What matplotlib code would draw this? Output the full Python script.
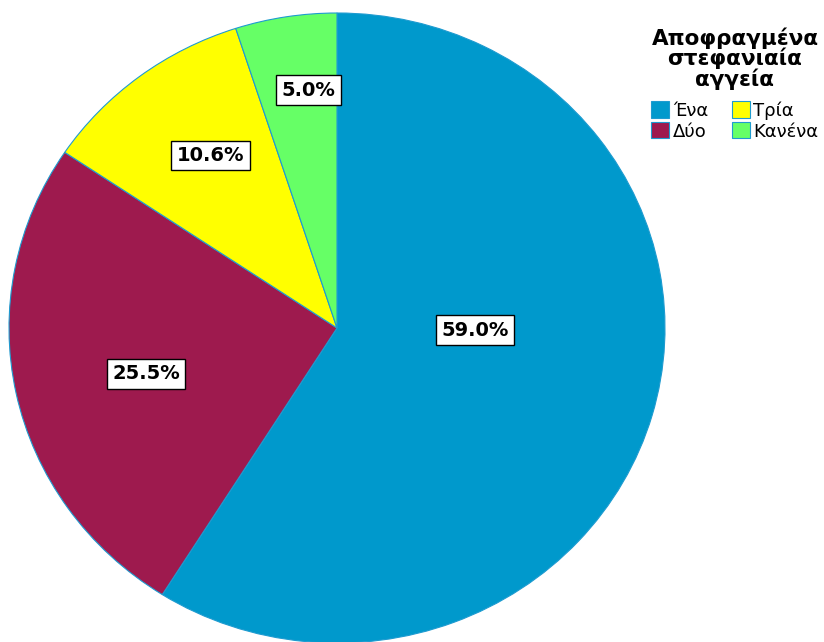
import matplotlib
matplotlib.use("Agg")
import matplotlib.pyplot as plt
from matplotlib.patches import Patch
import numpy as np

# Blocked coronary vessels: share of patients per category
categories = ["Ένα", "Δύο", "Τρία", "Κανένα"]
percentages = [59.0, 25.5, 10.6, 5.0]
colors = ["#0099CC", "#9E1A4E", "#FFFF00", "#66FF66"]
legend_title = "Αποφραγμένα\nστεφανιαία\nαγγεία"

# label placement: (angle in degrees, radius fraction) per slice
label_angle = [-1.0, -166.0, 125.2, 96.6]
label_radius = [0.42, 0.60, 0.67, 0.76]

edge = "#1E9BD0"

fig = plt.figure(figsize=(8.24, 6.42), dpi=100)
ax = fig.add_axes([9 / 824, -1 / 642, 656 / 824, 630 / 642])

wedges, _ = ax.pie(
    percentages,
    colors=colors,
    startangle=90,
    counterclock=False,
    wedgeprops=dict(edgecolor=edge, linewidth=0.8),
)
ax.set_aspect("auto")
ax.set_xlim(-1, 1)
ax.set_ylim(-1, 1)
ax.axis("off")
for w in wedges:
    w.set_clip_on(False)

for pct, ang, rad in zip(percentages, label_angle, label_radius):
    a = np.deg2rad(ang)
    ax.text(
        rad * np.cos(a), rad * np.sin(a), f"{pct:.1f}%",
        ha="center", va="center", fontsize=14, fontweight="bold",
        family="DejaVu Sans",
        bbox=dict(boxstyle="square,pad=0.28", facecolor="white",
                  edgecolor="black", linewidth=1.0),
    )

handles = [Patch(facecolor=c, edgecolor=edge, linewidth=0.8) for c in colors]
leg = fig.legend(
    handles, categories, ncol=2, title=legend_title,
    loc="upper center", bbox_to_anchor=(735 / 824, 1 - 11 / 642),
    frameon=False, fontsize=13, handlelength=1.0, handleheight=1.0,
    handletextpad=0.2, columnspacing=1.3, labelspacing=0.15,
    borderpad=0.4,
    title_fontproperties=dict(size=15.5, weight="bold"),
    alignment="center",
)
leg.get_title().set_multialignment("center")
leg.get_title().set_linespacing(0.95)
leg._legend_box.sep = 8

fig.savefig("out.png", dpi=100, facecolor="white")
